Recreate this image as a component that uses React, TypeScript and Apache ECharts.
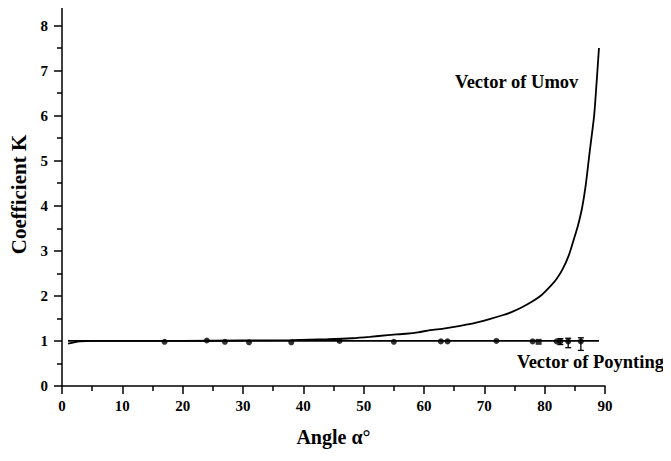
import React, { useEffect, useRef } from "react";
import * as echarts from "echarts";

// Vector of Umov curve (angle in degrees, coefficient K)
const umovAngles = [1, 2, 3, 5, 10, 20, 30, 38, 44, 48, 51, 54, 57, 59, 61, 63, 65, 67, 69, 71, 73, 74.5, 76, 78, 79.5, 81, 82, 83, 84, 84.8, 85.5, 86.2, 86.8, 87.5, 88.2, 88.6, 89];
const umovK = [0.94, 0.97, 0.99, 1.0, 1.0, 1.0, 1.01, 1.02, 1.04, 1.06, 1.09, 1.13, 1.16, 1.19, 1.24, 1.27, 1.31, 1.36, 1.42, 1.49, 1.57, 1.64, 1.73, 1.88, 2.02, 2.22, 2.38, 2.6, 2.9, 3.24, 3.55, 3.95, 4.45, 5.24, 6.0, 6.72, 7.5];

// Vector of Poynting: reference line and measured points
const poyntingLineAngles = [1, 89];
const poyntingLineK = [1, 1];
const poyntingAngles = [17, 24, 27, 31, 38, 46, 55, 62.8, 63.9, 72, 78, 82, 82.6, 83.9, 86];
const poyntingK = [0.98, 1.01, 0.98, 0.97, 0.97, 1.0, 0.98, 0.99, 0.99, 1.0, 0.99, 0.99, 0.99, 0.99, 0.99];
const squareAngles = [79];
const squareK = [0.98];

// Error bars
const errAngles = [82.6, 83.9, 86];
const errLow = [0.92, 0.85, 0.79];
const errHigh = [1.05, 1.06, 1.07];

// Axis ticks
const xMin = 0;
const xMax = 90;
const xStep = 10;
const yMin = 0;
const yMax = 8.5;
const yStep = 1;

const FONT = "Liberation Serif";

export default function App() {
  const ref = useRef<HTMLDivElement>(null);

  useEffect(() => {
    if (!ref.current) return;
    const chart = echarts.init(ref.current, undefined, { renderer: "svg" });

    const umovData = umovAngles.map((a, i) => [a, umovK[i]]);
    const pLine = poyntingLineAngles.map((a, i) => [a, poyntingLineK[i]]);
    const pPts = poyntingAngles.map((a, i) => [a, poyntingK[i]]);
    const sqPts = squareAngles.map((a, i) => [a, squareK[i]]);
    const errData = errAngles.map((a, i) => [a, errLow[i], errHigh[i]]);

    const axisLine = { show: true, lineStyle: { color: "#000", width: 1.5 } };
    const tickLabel = { fontFamily: FONT, fontWeight: "bold" as const, fontSize: 15, color: "#000" };

    chart.setOption({
      animation: false,
      backgroundColor: "#fff",
      textStyle: { fontFamily: FONT, fontWeight: "bold", color: "#000" },
      grid: { left: 58, right: 66, top: 3, bottom: 75, containLabel: false },
      xAxis: {
        type: "value",
        min: xMin,
        max: xMax,
        interval: xStep,
        name: "Angle α°",
        nameLocation: "middle",
        nameGap: 41,
        nameTextStyle: { fontFamily: FONT, fontWeight: "bold", fontSize: 20, color: "#000" },
        axisLine,
        axisTick: { show: true, length: 8, lineStyle: { color: "#000", width: 1.5 } },
        minorTick: { show: true, splitNumber: 2, length: 5, lineStyle: { color: "#000", width: 1.5 } },
        axisLabel: { ...tickLabel, margin: 12 },
        splitLine: { show: false },
      },
      yAxis: {
        type: "value",
        min: yMin,
        max: yMax,
        interval: yStep,
        name: "Coefficient K",
        nameLocation: "middle",
        nameGap: 33,
        nameTextStyle: { fontFamily: FONT, fontWeight: "bold", fontSize: 21, color: "#000" },
        axisLine,
        axisTick: { show: true, length: 8, lineStyle: { color: "#000", width: 1.5 } },
        minorTick: { show: true, splitNumber: 2, length: 5, lineStyle: { color: "#000", width: 1.5 } },
        axisLabel: { ...tickLabel, margin: 14, showMaxLabel: false },
        splitLine: { show: false },
      },
      graphic: [
        {
          type: "text",
          left: 455,
          top: 72,
          style: { text: "Vector of Umov", font: `bold 18.5px ${FONT}`, fill: "#000" },
        },
        {
          type: "text",
          left: 517,
          top: 352,
          style: { text: "Vector of Poynting", font: `bold 18.5px ${FONT}`, fill: "#000" },
        },
      ],
      series: [
        {
          name: "Vector of Umov",
          type: "line",
          data: umovData,
          showSymbol: false,
          symbol: "none",
          smooth: 0.25,
          lineStyle: { color: "#000", width: 1.8 },
          z: 3,
        },
        {
          name: "Vector of Poynting line",
          type: "line",
          data: pLine,
          showSymbol: false,
          symbol: "none",
          lineStyle: { color: "#000", width: 1.8 },
          z: 3,
        },
        {
          name: "Vector of Poynting",
          type: "scatter",
          data: pPts,
          symbol: "circle",
          symbolSize: 6,
          itemStyle: { color: "#000" },
          z: 4,
        },
        {
          name: "Vector of Poynting (square)",
          type: "scatter",
          data: sqPts,
          symbol: "rect",
          symbolSize: 6,
          itemStyle: { color: "#000" },
          z: 4,
        },
        {
          name: "Error bars",
          type: "custom",
          data: errData,
          z: 4,
          renderItem: (params: any, api: any) => {
            const x = api.value(0);
            const lo = api.coord([x, api.value(1)]);
            const hi = api.coord([x, api.value(2)]);
            const cap = 3;
            const style = { stroke: "#000", lineWidth: 1.3 };
            return {
              type: "group",
              children: [
                { type: "line", shape: { x1: lo[0], y1: lo[1], x2: hi[0], y2: hi[1] }, style },
                { type: "line", shape: { x1: lo[0] - cap, y1: lo[1], x2: lo[0] + cap, y2: lo[1] }, style },
                { type: "line", shape: { x1: hi[0] - cap, y1: hi[1], x2: hi[0] + cap, y2: hi[1] }, style },
              ],
            };
          },
        },
      ],
    });

    return () => chart.dispose();
  }, []);

  return <div ref={ref} style={{ width: 671, height: 461, marginLeft: -8, marginTop: -8 }} />;
}
